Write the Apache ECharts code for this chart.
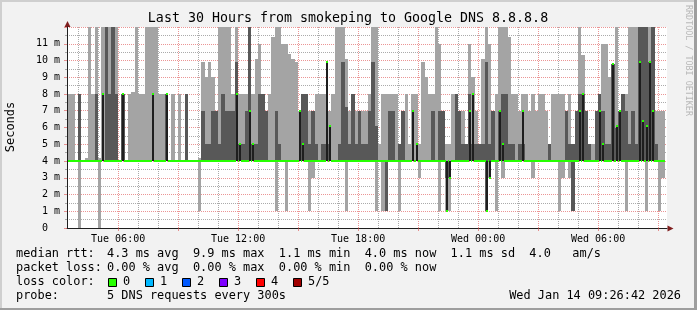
<!DOCTYPE html>
<html><head><meta charset="utf-8">
<script src="https://cdn.jsdelivr.net/npm/echarts@6/dist/echarts.min.js"></script>
<style>html,body{margin:0;padding:0;background:#f2f2f2}#c{width:697px;height:310px}</style>
</head><body><div id="c"></div>
<script>
// ---- time frame (hours since Tue 00:00) ----
const T_START = 3 + 26/60 + 42/3600;
const T_END = T_START + 30;
const BIN_START = 3.5;          // first 10-minute bin
const BIN_HOURS = 1/6;

// ---- tick labels ----
const xLabelHours = [6, 12, 18, 24, 30];
const xLabels = ['Tue 06:00', 'Tue 12:00', 'Tue 18:00', 'Wed 00:00', 'Wed 06:00'];

// ---- smoke: outer band (light), inner band (dark), median; values in ms ----
const lightHigh = [
 8,8,4,8,4,4.2,12,8,12,4.2,
 12,12,12,12,12,4,8,4,8,8.1,
 12,8,8,12,12,12,12,8,8,8,
 4,8,4,8,4,8,4,4,4,4.2,
 9.9,9,9.9,9,7,12,12,12,12,8,
 12,8,8,8,12,8,10.1,11,8,7,
 8,11.4,12,12,11,11,10.4,10.1,9.9,7,
 8,8,7,7,8,8,8,8,7,8,
 12,12,12,10.1,7,8,7,7,7,7,
 8,12,12,5,8,8,8,8,8,5,
 7,8,5,8,8,5,9.9,9,8,8,
 12,11,7,5,5,8,8,7,7,5,
 11,9,7,5,10.1,12,11,7,8,12,
 12,12,11.4,8,8,7,8,8,7,8,
 7,8,8,7,5,8,8,8,8,7,
 8,5,7,12,10.3,7,5,5,7,8,
 11,11,9,9.8,12,7,8,8,12,12,
 12,12,12,12,12,12,7,7,7];
const lightLow = [
 4,4,4,0,4,4,4,4,4,0,
 4,4,4,4,4,4,4,4,4,4,
 4,4,4,4,4,4,4,4,4,4,
 4,4,4,4,4,4,4,4,4,1,
 4,4,4,4,4,4,4,4,4,4,
 4,4,4,4,4,4,4,4,4,4,
 4,4,1,4,4,1,4,4,4,4,
 4,4,1,3,4,4,4,4,4,4,
 4,4,4,1,4,4,4,4,4,4,
 4,4,1,4,1,1,4,4,4,1,
 4,4,4,4,4,3,4,4,4,4,
 4,1,4,1,1,4,4,4,4,4,
 4,4,4,4,4,1,3,4,1,4,
 3,4,4,4,4,4,4,4,4,3,
 4,4,4,4,4,4,4,1,3,4,
 3,1,4,4,4,4,4,4,4,4,
 4,4,4,4,4,4,4,1,4,4,
 4,4,4,1,4,4,4,1,3];
const darkHigh = [
 4,4,4,8,4,4,4,4,8,4,
 4,12,8,12,8,4,8,4,4,4,
 4,4,4,4,4,4,4,4,4,8,
 4,4,4,4,4,8,4,4,4,4,
 7,5,5,7,7,5,8,7,7,7,
 9.9,5,5,7,12,5,5,8,8,7,
 4,4,7,5,4,4,4,4,4,4,
 8,8,5,7,5,4,5,5,5,4,
 4,5,9.9,7.2,5,8,5,7,5,5,
 7,9.9,6.1,4,4,4,7,7,4,5,
 7,4,4,4,4,4,4,4,4,7,
 4,7,7,4,4,4,8,7,5,5,
 8,5,5,5,5,9.9,5,7,4,7,
 8,8,5,5,4,5,5,4,4,4,
 4,4,4,4,5,4,4,4,4,7,
 5,5,7,8,8,7,5,4,7,8,
 7,5,5,9.8,6,7,8,7,5,7,
 5,12,12,12,9.9,12,5,4,4];
const darkLow = [
 4,4,4,4,4,4,4,4,4,4,
 4,4,4,4,4,4,4,4,4,4,
 4,4,4,4,4,4,4,4,4,4,
 4,4,4,4,4,4,4,4,4,4,
 4,4,4,4,4,4,4,4,4,4,
 4,4,4,4,4,4,4,4,4,4,
 4,4,4,4,4,4,4,4,4,4,
 4,4,4,4,4,4,4,4,4,4,
 4,4,4,4,4,4,4,4,4,4,
 4,4,4,4,4,1,4,4,4,4,
 4,4,4,4,4,4,4,4,4,4,
 4,4,4,3,3,4,4,4,4,4,
 4,4,4,4,4,1,4,4,4,4,
 4,4,4,4,4,4,4,4,4,4,
 4,4,4,4,4,4,4,4,4,4,
 4,1,4,4,4,4,4,4,4,4,
 4,4,4,4,4,4,4,4,4,4,
 4,4,4,4,4,4,4,4,4];
const median = [
 4,4,4,4,4,4,4,4,4,4,
 8,4,4,4,4,4,8,4,4,4,
 4,4,4,4,4,8,4,4,4,8,
 4,4,4,4,4,4,4,4,4,4,
 4,4,4,4,4,4,4,4,4,4,
 8,5,4,4,7,5,4,4,4,4,
 4,4,4,4,4,4,4,4,4,7,
 5,4,4,4,4,4,4,9.9,6.1,4,
 4,4,4,4,4,4,4,4,4,4,
 4,4,4,4,4,4,4,4,4,4,
 4,4,4,7,5,4,4,4,4,4,
 4,4,4,1,3,4,4,4,4,4,
 7,8,4,4,4,1,3,4,4,7,
 5,4,4,4,4,4,7,4,4,4,
 4,4,4,4,4,4,4,4,4,4,
 4,4,4,7,8,4,4,4,4,7,
 5,4,4,9.8,6.1,7,4,4,4,4,
 4,9.9,6.4,6.1,9.9,7,4,4,4];

// ---- legend ----
const lossLabels = ['0', '1', '2', '3', '4', '5/5'];
const lossColors = ['#26ff00', '#00b8ff', '#0059ff', '#7e00ff', '#ff0000', '#a00000'];
const legendRows = [
  ['median rtt:', '4.3 ms avg  9.9 ms max  1.1 ms min  4.0 ms now  1.1 ms sd  4.0   am/s'],
  ['packet loss:', '0.00 % avg  0.00 % max  0.00 % min  0.00 % now'],
  ['loss color:', ''],
  ['probe:', '5 DNS requests every 300s']
];

const LIGHT = '#a4a4a4', DARK = '#585858', MEDLINE = '#1e1e1e', GREEN = '#26ff00';
const MINOR = 'rgba(143,143,143,0.75)', MAJOR = 'rgba(222,79,79,0.6)';
const MONO = 'DejaVu Sans Mono';

const bins = lightHigh.map((lh, i) => [BIN_START + i*BIN_HOURS, BIN_START + (i+1)*BIN_HOURS,
  lightLow[i], lh, darkLow[i], darkHigh[i], median[i]]);
const gridHours = [];
for (let h = Math.ceil(T_START); h <= Math.floor(T_END); h++) gridHours.push([h, 0]);

function rect(x, y, w, h, fill) {
  return {type: 'rect', shape: {x: x, y: y, width: w, height: h}, style: {fill: fill}};
}

const chart = echarts.init(document.getElementById('c'), null, {renderer: 'canvas'});

const graphics = [];
// borders
graphics.push({type:'rect', shape:{x:0,y:0,width:697,height:2}, style:{fill:'#cfcfcf'}});
graphics.push({type:'rect', shape:{x:0,y:0,width:2,height:310}, style:{fill:'#cfcfcf'}});
graphics.push({type:'rect', shape:{x:0,y:308,width:697,height:2}, style:{fill:'#9e9e9e'}});
graphics.push({type:'rect', shape:{x:694,y:0,width:3,height:310}, style:{fill:'#9e9e9e'}});
// title
graphics.push({type:'text', x:348, y:19, style:{text:'Last 30 Hours from smokeping to Google DNS 8.8.8.8',
  font:'13.3px "' + MONO + '"', fill:'#000', align:'center', verticalAlign:'middle'}});
// y axis title
graphics.push({type:'text', x:11, y:127, rotation:Math.PI/2, style:{text:'Seconds',
  font:'12px "' + MONO + '"', fill:'#000', align:'center', verticalAlign:'middle'}});
// watermark
graphics.push({type:'text', x:688, y:5, rotation:-Math.PI/2, style:{text:'RRDTOOL / TOBI OETIKER',
  font:'8.4px "' + MONO + '"', fill:'#b8b8b8', align:'left', verticalAlign:'middle'}});
// arrows
graphics.push({type:'polygon', shape:{points:[[67.5,21],[64.5,27],[70.5,27]]}, style:{fill:'#801f1f'}});
graphics.push({type:'polygon', shape:{points:[[673.5,228.5],[667.5,225.5],[667.5,231.5]]}, style:{fill:'#801f1f'}});
// legend rows
legendRows.forEach((row, r) => {
  const y = 254 + r*14;
  graphics.push({type:'text', x:16, y:y, style:{text:row[0], font:'11.9px "' + MONO + '"', fill:'#000', verticalAlign:'middle'}});
  if (row[1]) graphics.push({type:'text', x:107, y:y, style:{text:row[1], font:'11.9px "' + MONO + '"', fill:'#000', verticalAlign:'middle'}});
});
lossLabels.forEach((lab, i) => {
  const bx = 108 + i*37;
  graphics.push({type:'rect', shape:{x:bx+0.5, y:278.5, width:8, height:8}, style:{fill:lossColors[i], stroke:'#000', lineWidth:1}});
  graphics.push({type:'text', x:bx+15, y:282, style:{text:lab, font:'11.9px "' + MONO + '"', fill:'#000', verticalAlign:'middle'}});
});
graphics.push({type:'text', x:681, y:296, style:{text:'Wed Jan 14 09:26:42 2026', font:'11.9px "' + MONO + '"', fill:'#000', align:'right', verticalAlign:'middle'}});

chart.setOption({
  animation: false,
  backgroundColor: '#f2f2f2',
  grid: {left: 67, right: 30, top: 27, bottom: 82, show: true, backgroundColor: '#ffffff', borderWidth: 0},
  xAxis: {
    type: 'value', min: T_START, max: T_END,
    axisLine: {show: true, onZero: false, lineStyle: {color: '#1f1f1f', width: 1}},
    axisTick: {show: true, length: 3, customValues: [6,9,12,15,18,21,24,27,30,33], lineStyle: {color: MAJOR}},
    axisLabel: {customValues: xLabelHours, margin: 6, color: '#000', fontFamily: MONO, fontSize: 10,
      formatter: v => { const i = xLabelHours.indexOf(Math.round(v)); return i >= 0 ? xLabels[i] : ''; }},
    splitLine: {show: false}
  },
  yAxis: {
    type: 'value', min: 0, max: 12, interval: 1,
    axisLine: {show: true, lineStyle: {color: '#1f1f1f', width: 1}},
    axisTick: {show: true, length: 3, lineStyle: {color: MAJOR}},
    minorTick: {show: true, splitNumber: 2, length: 2, lineStyle: {color: MINOR}},
    axisLabel: {margin: 7, color: '#000', fontFamily: MONO, fontSize: 10,
      formatter: v => v === 0 ? '0  ' : (v >= 12 ? '' : v + ' m')},
    splitLine: {show: true, lineStyle: {color: MAJOR, type: [1, 1], width: 1}},
    minorSplitLine: {show: true, lineStyle: {color: MINOR, type: [1, 1], width: 1}}
  },
  series: [
    { // vertical grid
      type: 'custom', z: 1, silent: true, clip: true, data: gridHours, encode: {x: 0, y: 1},
      renderItem: (p, api) => {
        const h = api.value(0);
        const top = api.coord([h, 12]), bot = api.coord([h, 0]);
        const x = Math.round(top[0]) + 0.5;
        return {type: 'line', shape: {x1: x, y1: top[1], x2: x, y2: bot[1]},
          style: {stroke: h % 3 === 0 ? MAJOR : MINOR, lineWidth: 1, lineDash: [1, 1]}};
      }
    },
    { // smoke
      type: 'custom', z: 2, silent: true, clip: true, data: bins, encode: {x: [0, 1], y: [2, 3]},
      renderItem: (p, api) => {
        const t0 = api.value(0), t1 = api.value(1);
        const ll = api.value(2), lh = api.value(3), dl = api.value(4), dh = api.value(5);
        const xa = Math.round(api.coord([t0, 0])[0]), xb = Math.round(api.coord([t1, 0])[0]);
        const yv = v => Math.round(api.coord([t0, Math.min(v, 12)])[1]);
        const ch = [];
        if (lh > ll) ch.push(rect(xa, yv(lh), xb - xa, yv(ll) - yv(lh), LIGHT));
        if (dh > dl) ch.push(rect(xa, yv(dh), xb - xa, yv(dl) - yv(dh), DARK));
        return {type: 'group', children: ch};
      }
    },
    { // median
      type: 'custom', z: 3, silent: true, clip: true, data: bins, encode: {x: [0, 1], y: [6]},
      renderItem: (p, api) => {
        const t0 = api.value(0), t1 = api.value(1), m = api.value(6);
        const xa = Math.round(api.coord([t0, 4])[0]), xb = Math.round(api.coord([t1, 4])[0]);
        const y4 = Math.round(api.coord([t0, 4])[1]), ym = Math.round(api.coord([t0, m])[1]);
        const ch = [];
        if (m === 4) {
          ch.push(rect(xa, y4 - 1, xb - xa, 2, GREEN));
        } else {
          const xc = Math.round((xa + xb) / 2) - 1;
          if (xc > xa) ch.push(rect(xa, y4 - 1, xc - xa, 2, GREEN));
          if (xb > xc + 2) ch.push(rect(xc + 2, y4 - 1, xb - xc - 2, 2, GREEN));
          ch.push(rect(xc, Math.min(y4, ym), 2, Math.abs(y4 - ym), MEDLINE));
          ch.push(rect(xc, ym - 1, 2, 2, GREEN));
        }
        return {type: 'group', children: ch};
      }
    }
  ],
  graphic: graphics
});
</script>
</body></html>
